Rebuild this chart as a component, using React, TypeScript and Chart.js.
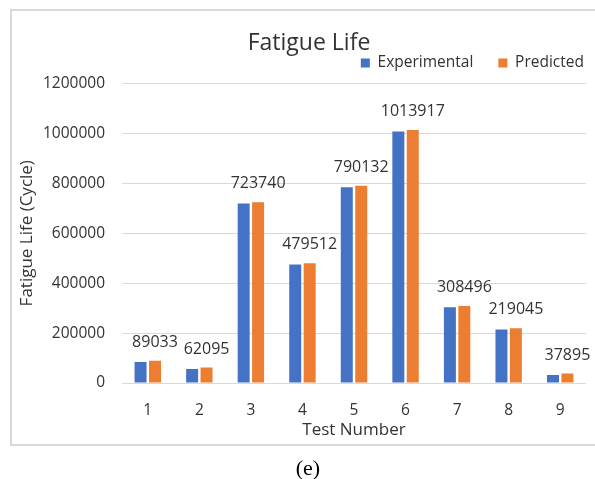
import React, { useEffect, useRef } from "react";
import { Chart, registerables } from "chart.js";

Chart.register(...registerables);

const categories = ["1", "2", "3", "4", "5", "6", "7", "8", "9"];
const seriesNames = ["Experimental", "Predicted"];
const experimental = [84000, 56500, 719000, 474500, 784500, 1008000, 303500, 214000, 32500];
const predicted = [89033, 62095, 723740, 479512, 790132, 1013917, 308496, 219045, 37895];
const yMin = 0;
const yMax = 1200000;
const yStep = 200000;

const FONT = "'Open Sans', sans-serif";
const TEXT = "#333333";
const BLUE = "#4472C4";
const ORANGE = "#ED7D31";

const labelPlugin = {
  id: "predLabels",
  afterDatasetsDraw(chart: any) {
    const meta = chart.getDatasetMeta(1);
    const ctx = chart.ctx;
    ctx.save();
    ctx.font = `16px ${FONT}`;
    ctx.fillStyle = TEXT;
    ctx.textAlign = "center";
    ctx.textBaseline = "middle";
    meta.data.forEach((el: any, i: number) => {
      ctx.fillText(String(predicted[i]), el.x, el.y - 18.5);
    });
    ctx.restore();
  },
};

export default function App() {
  const ref = useRef<HTMLCanvasElement | null>(null);
  useEffect(() => {
    if (!ref.current) return;
    const chart = new Chart(ref.current, {
      type: "bar",
      data: {
        labels: categories,
        datasets: [
          {
            label: seriesNames[0],
            data: experimental,
            backgroundColor: BLUE,
            xAxisID: "x",
            yAxisID: "y",
            categoryPercentage: 0.56,
            barPercentage: 0.83,
          },
          {
            label: seriesNames[1],
            data: predicted,
            backgroundColor: ORANGE,
            xAxisID: "x",
            yAxisID: "y",
            categoryPercentage: 0.56,
            barPercentage: 0.83,
          },
        ],
      },
      options: {
        animation: false,
        responsive: false,
        devicePixelRatio: 1,
        layout: { padding: { left: 9, right: -14, top: 0, bottom: 36 } },
        plugins: {
          tooltip: { enabled: false },
          title: {
            display: true,
            text: "Fatigue Life",
            color: TEXT,
            font: { family: FONT, size: 23, weight: "normal" },
            padding: { top: 29.2, bottom: -26.6 },
          },
          legend: {
            display: true,
            position: "top",
            align: "end",
            labels: {
              boxWidth: 9,
              boxHeight: 9,
              padding: 25,
              color: TEXT,
              font: { family: FONT, size: 15.5 },
            },
          },
        },
        scales: {
          x: {
            position: "bottom",
            grid: { display: false },
            border: { display: false },
            ticks: { color: TEXT, font: { family: FONT, size: 15.5 }, padding: 10 },
            title: {
              display: true,
              text: "Test Number",
              color: TEXT,
              font: { family: FONT, size: 17 },
              padding: { top: 0, bottom: 2.8 },
            },
            afterFit(s: any) {
              s.height = 60;
            },
          },
          y: {
            position: "left",
            min: yMin,
            max: yMax,
            grid: { color: "#d9d9d9", drawTicks: false, lineWidth: 1 },
            border: { display: false },
            ticks: {
              stepSize: yStep,
              color: TEXT,
              font: { family: FONT, size: 15.5 },
              padding: 17,
              callback: (v: any) => String(v),
            },
            title: {
              display: true,
              text: "Fatigue Life (Cycle)",
              color: TEXT,
              font: { family: FONT, size: 17 },
              padding: { top: 7.8, bottom: 0 },
            },
            afterFit(s: any) {
              s.width = 113;
            },
          },
          yR: {
            type: "linear",
            position: "right",
            display: true,
            grid: { display: false },
            ticks: { display: false },
            border: { display: false },
            afterFit(s: any) {
              s.width = 23;
            },
          },
          xT: {
            type: "category",
            position: "top",
            display: true,
            grid: { display: false },
            ticks: { display: false },
            border: { display: false },
            afterFit(s: any) {
              s.height = 2.8;
            },
          },
        },
      } as any,
      plugins: [labelPlugin],
    });
    return () => chart.destroy();
  }, []);

  return (
    <div style={{ position: "absolute", left: 0, top: 0, width: 595, height: 479, overflow: "hidden", background: "#fff" }}>
      <div
        style={{
          position: "absolute",
          left: 10,
          top: 9,
          width: 600,
          height: 437,
          boxSizing: "border-box",
          border: "2px solid #d9d9d9",
        }}
      />
      <canvas ref={ref} width={595} height={479} style={{ position: "absolute", left: 0, top: 0, width: 595, height: 479 }} />
      <div
        style={{
          position: "absolute",
          left: 0,
          top: 454,
          width: 616,
          textAlign: "center",
          fontFamily: "'Liberation Serif', 'Times New Roman', serif",
          fontSize: 22,
          lineHeight: "28px",
          color: "#000",
        }}
      >
        (e)
      </div>
    </div>
  );
}
